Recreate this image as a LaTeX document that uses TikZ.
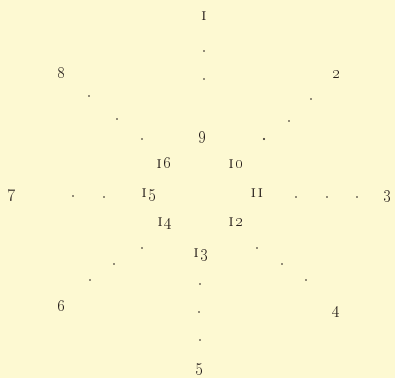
\documentclass[tikz,border=0pt]{standalone}
\definecolor{paper}{RGB}{253,249,210}
\definecolor{ink}{RGB}{40,32,28}
\newcommand{\onum}[1]{\oldstylenums{#1}}
\newcommand{\onefig}{\textsc{i}}
\begin{document}
\begin{tikzpicture}[x=1pt,y=-1pt,
  num/.style={text=ink,font=\fontsize{17}{20}\selectfont,inner sep=0pt},
  dt/.style={circle,fill=ink,inner sep=0pt,minimum size=1.6pt},
  bigdt/.style={circle,fill=ink,inner sep=0pt,minimum size=2.3pt}]
\fill[paper] (0,0) rectangle (395,378);
\useasboundingbox (0,0) rectangle (395,378);
% outer numbers
\node[num] (n1) at (204,16) {\onefig};
\node[num] (n2) at (337,75) {\onum{2}};
\node[num] (n3) at (388,196) {\onum{3}};
\node[num] (n4) at (337,312) {\onum{4}};
\node[num] (n5) at (200,369) {\onum{5}};
\node[num] (n6) at (62,306) {\onum{6}};
\node[num] (n7) at (12,195) {\onum{7}};
\node[num] (n8) at (62,73) {\onum{8}};
% inner numbers
\node[num] (n9) at (203,137) {\onum{9}};
\node[num] (n10) at (236,164) {\onefig\kern1.5pt\onum{0}};
\node[num] (n11) at (257,193) {\onefig\kern2pt\onefig};
\node[num] (n12) at (236,222) {\onefig\kern1.5pt\onum{2}};
\node[num] (n13) at (201,255) {\onefig\kern1.5pt\onum{3}};
\node[num] (n14) at (165,224) {\onefig\kern1.5pt\onum{4}};
\node[num] (n15) at (149,195) {\onefig\kern1.5pt\onum{5}};
\node[num] (n16) at (164,163) {\onefig\kern1.5pt\onum{6}};
% dots
\node[dt] (d1a) at (204,51) {};
\node[dt] (d1b) at (204,79) {};
\node[dt] (d2a) at (311,99) {};
\node[dt] (d2b) at (289,121) {};
\node[bigdt] (d2c) at (264,139) {};
\node[dt] (d3a) at (296,197) {};
\node[dt] (d3b) at (327,197) {};
\node[dt] (d3c) at (357,197) {};
\node[dt] (d4a) at (257,248) {};
\node[dt] (d4b) at (282,264) {};
\node[dt] (d4c) at (306,280) {};
\node[dt] (d5a) at (200,284) {};
\node[dt] (d5b) at (199,312) {};
\node[dt] (d5c) at (200,340) {};
\node[dt] (d6a) at (142,248) {};
\node[dt] (d6b) at (114,264) {};
\node[dt] (d6c) at (90,280) {};
\node[dt] (d7a) at (73,196) {};
\node[dt] (d7b) at (104,197) {};
\node[dt] (d8a) at (89,96) {};
\node[dt] (d8b) at (117,119) {};
\node[dt] (d8c) at (142,139) {};
\end{tikzpicture}
\end{document}
